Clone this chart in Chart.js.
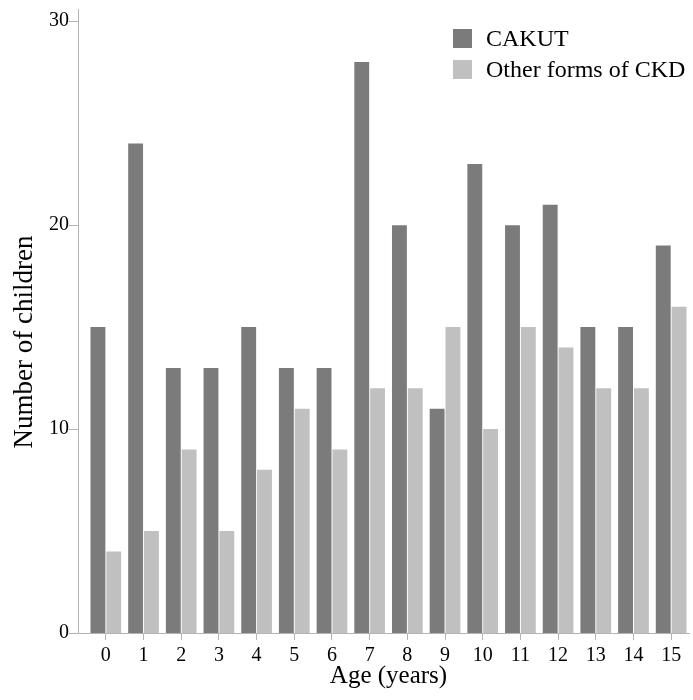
<!DOCTYPE html>
<html>
<head>
<meta charset="utf-8">
<script src="https://cdn.jsdelivr.net/npm/chart.js@4.4.1/dist/chart.umd.min.js"></script>
<style>
  html, body { margin: 0; padding: 0; background: #fff; }
  #wrap { position: relative; width: 693px; height: 700px; }
  #legend { position: absolute; left: 453px; top: 23px; font-family: "Liberation Serif", serif; font-size: 24px; color: #000; }
  .legend-row { display: flex; align-items: center; height: 31px; white-space: nowrap; }
  .legend-box { width: 19px; height: 19px; margin-right: 14px; }
</style>
</head>
<body>
<div id="wrap">
  <canvas id="chart" width="693" height="700"></canvas>
  <div id="legend"></div>
</div>
<script>
/**
 * DATA
 */
const ages = ["0", "1", "2", "3", "4", "5", "6", "7", "8", "9", "10", "11", "12", "13", "14", "15"];
const cakut = [15, 24, 13, 13, 15, 13, 13, 28, 20, 11, 23, 20, 21, 15, 15, 19];
const otherCkd = [4, 5, 9, 5, 8, 11, 9, 12, 12, 15, 10, 15, 14, 12, 12, 16];
const yTicks = [0, 10, 20, 30];
const seriesNames = ["CAKUT", "Other forms of CKD"];
const xTitle = "Age (years)";
const yTitle = "Number of children";

const DARK = "#7b7b7b";
const LIGHT = "#c0c0c0";
const AXIS = "#b4b4b4";
const FONT = "'Liberation Serif', 'Times New Roman', serif";
const AXIS_GAP = 9; // y axis line sits a little left of the first bar slot

// axis lines + ticks + rotated y title
const axisLines = {
  id: "axisLines",
  afterDraw(chart) {
    const { ctx, chartArea, scales } = chart;
    const x0 = Math.round(chartArea.left - AXIS_GAP) + 0.5;
    const yb = Math.round(chartArea.bottom) + 0.5;
    ctx.save();
    ctx.strokeStyle = AXIS;
    ctx.lineWidth = 1;
    ctx.beginPath();
    ctx.moveTo(x0, chartArea.top);
    ctx.lineTo(x0, yb);
    yTicks.forEach(v => {
      const y = Math.round(scales.y.getPixelForValue(v)) + 0.5;
      ctx.moveTo(x0 - 10, y);
      ctx.lineTo(x0, y);
    });
    ctx.moveTo(x0, yb);
    ctx.lineTo(chartArea.right, yb);
    ctx.stroke();

    ctx.fillStyle = "#000";
    ctx.font = "27px " + FONT;
    ctx.textAlign = "center";
    ctx.textBaseline = "alphabetic";
    ctx.translate(32, (chartArea.top + chartArea.bottom) / 2 + 21);
    ctx.rotate(-Math.PI / 2);
    ctx.fillText(yTitle, 0, 0);
    ctx.restore();
  }
};

const buildLegend = (datasets) => {
  const legend = document.getElementById("legend");
  legend.innerHTML = datasets.map(ds =>
    `<div class="legend-row"><span class="legend-box" style="background:${ds.backgroundColor}"></span>${ds.label}</div>`
  ).join("");
};

const noPadding = (scale) => {
  scale.paddingTop = 0;
  scale.paddingBottom = 0;
  scale.paddingLeft = 0;
  scale.paddingRight = 0;
};

const datasets = [
  { label: seriesNames[0], data: cakut, backgroundColor: DARK, categoryPercentage: 0.84, barPercentage: 0.94 },
  { label: seriesNames[1], data: otherCkd, backgroundColor: LIGHT, categoryPercentage: 0.84, barPercentage: 0.94 }
];

new Chart(document.getElementById("chart"), {
  type: "bar",
  data: { labels: ages, datasets: datasets },
  options: {
    responsive: false,
    animation: false,
    layout: { padding: { top: 9, right: 3, left: 0, bottom: 0 } },
    plugins: { legend: { display: false }, tooltip: { enabled: false } },
    scales: {
      x: {
        grid: { display: true, offset: false, drawOnChartArea: false, drawTicks: true, tickLength: 7, color: AXIS },
        border: { display: false },
        ticks: { font: { family: FONT, size: 20 }, color: "#000", padding: 4, maxRotation: 0 },
        title: { display: true, text: xTitle, font: { family: FONT, size: 25 }, color: "#000", padding: { top: 0, bottom: 9 } },
        afterFit(scale) { scale.height = 67; noPadding(scale); }
      },
      y: {
        min: 0,
        max: 30.6,
        grid: { display: false },
        border: { display: false },
        ticks: { stepSize: 10, includeBounds: false, font: { family: FONT, size: 20 }, color: "#000", padding: 10 },
        afterBuildTicks(scale) { scale.ticks = yTicks.map(v => ({ value: v })); },
        afterFit(scale) { scale.width = 87; noPadding(scale); }
      }
    }
  },
  plugins: [axisLines]
});

buildLegend(datasets);
</script>
</body>
</html>
